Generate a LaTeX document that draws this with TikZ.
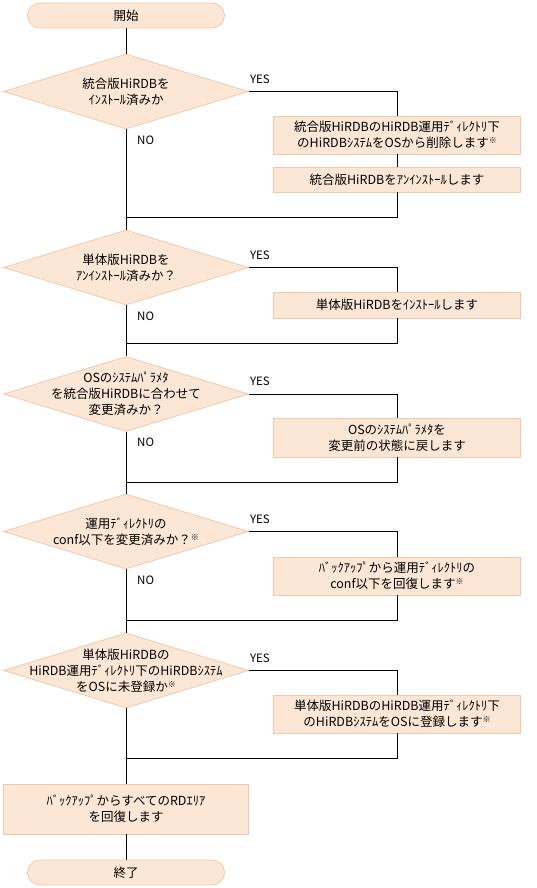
\documentclass[tikz,border=0pt]{standalone}
\usepackage{fontspec}
\setmainfont{Noto Sans CJK JP}
\usetikzlibrary{shapes.geometric,positioning}

\definecolor{boxfill}{RGB}{252,231,214}
\definecolor{boxline}{RGB}{240,201,170}
\newcommand{\kome}{\raisebox{0.6ex}{\fontsize{8}{8}\selectfont ※}}

\tikzset{
  process/.style={rectangle,draw=boxline,fill=boxfill,line width=0.8pt,
    minimum width=247pt,inner sep=0pt,align=center},
  terminal/.style={rectangle,rounded corners=12.5pt,draw=boxline,fill=boxfill,
    line width=0.8pt,minimum width=197pt,minimum height=25pt,inner sep=0pt},
  decision/.style={diamond,draw=boxline,fill=boxfill,line width=0.8pt,
    minimum width=245pt,minimum height=75pt,inner sep=0pt},
  yesno/.style={inner sep=0pt,font=\fontsize{11.5}{13}\selectfont},
  flow/.style={draw=black,line width=0.9pt},
}

\begin{document}
\begin{tikzpicture}[x=1pt,y=-1pt,font=\fontsize{12.5}{16}\selectfont]
\useasboundingbox (0,0) rectangle (536,888);

% main column
\node[terminal] (start) at (126,15.5) {開始};
\node[decision,label={[align=center]center:統合版HiRDBを\\ｲﾝｽﾄｰﾙ済みか}] (q1) at (126,91.5) {};
\node[decision,label={[align=center]center:単体版HiRDBを\\ｱﾝｲﾝｽﾄｰﾙ済みか？}] (q2) at (126,267.5) {};
\node[decision,label={[align=center]center:OSのｼｽﾃﾑﾊﾟﾗﾒﾀ\\を統合版HiRDBに合わせて\\変更済みか？}] (q3) at (126,394) {};
\node[decision,label={[align=center]center:運用ﾃﾞｨﾚｸﾄﾘの\\conf以下を変更済みか？\kome}] (q4) at (126,531.5) {};
\node[decision,label={[align=center]center:単体版HiRDBの\\HiRDB運用ﾃﾞｨﾚｸﾄﾘ下のHiRDBｼｽﾃﾑ\\をOSに未登録か\kome}] (q5) at (126,670.5) {};
\node[process,minimum width=245pt,minimum height=50pt] (b7) at (126,809) {ﾊﾞｯｸｱｯﾌﾟからすべてのRDｴﾘｱ\\を回復します};
\node[terminal] (stop) at (126,872.5) {終了};

% right column
\node[process,minimum height=38pt] (b1) at (397,135) {統合版HiRDBのHiRDB運用ﾃﾞｨﾚｸﾄﾘ下\\のHiRDBｼｽﾃﾑをOSから削除します\kome};
\node[process,minimum height=25pt] (b2) at (397,179.5) {統合版HiRDBをｱﾝｲﾝｽﾄｰﾙします};
\node[process,minimum height=26pt] (b3) at (397,305) {単体版HiRDBをｲﾝｽﾄｰﾙします};
\node[process,minimum height=39pt] (b4) at (397,437.5) {OSのｼｽﾃﾑﾊﾟﾗﾒﾀを\\変更前の状態に戻します};
\node[process,minimum height=38pt] (b5) at (397,576) {ﾊﾞｯｸｱｯﾌﾟから運用ﾃﾞｨﾚｸﾄﾘの\\conf以下を回復します\kome};
\node[process,minimum height=38pt] (b6) at (397,714) {単体版HiRDBのHiRDB運用ﾃﾞｨﾚｸﾄﾘ下\\のHiRDBｼｽﾃﾑをOSに登録します\kome};

% merge points
\coordinate (m1) at (126,217);
\coordinate (m2) at (126,343);
\coordinate (m3) at (126,482);
\coordinate (m4) at (126,620);
\coordinate (m5) at (126,758);

% YES / NO
\node[yesno,above right=8pt and 1pt of q1.east] (y1) {YES};
\node[yesno,above right=8pt and 1pt of q2.east] (y2) {YES};
\node[yesno,above right=8pt and 1pt of q3.east] (y3) {YES};
\node[yesno,above right=8pt and 1pt of q4.east] (y4) {YES};
\node[yesno,above right=8pt and 1pt of q5.east] (y5) {YES};
\node[yesno,below right=6pt and 11pt of q1.south] (n1) {NO};
\node[yesno,below right=6pt and 11pt of q2.south] (n2) {NO};
\node[yesno,below right=6pt and 11pt of q3.south] (n3) {NO};
\node[yesno,below right=6pt and 11pt of q4.south] (n4) {NO};

% connectors
\draw[flow] (start) -- (q1);
\draw[flow] (q1.south) -- (q2.north);
\draw[flow] (q2.south) -- (q3.north);
\draw[flow] (q3.south) -- (q4.north);
\draw[flow] (q4.south) -- (q5.north);
\draw[flow] (q5.south) -- (b7.north);
\draw[flow] (b7) -- (stop);

\draw[flow] (q1.east) -| (b1.north);
\draw[flow] (b1) -- (b2);
\draw[flow] (b2.south) |- (m1);
\draw[flow] (q2.east) -| (b3.north);
\draw[flow] (b3.south) |- (m2);
\draw[flow] (q3.east) -| (b4.north);
\draw[flow] (b4.south) |- (m3);
\draw[flow] (q4.east) -| (b5.north);
\draw[flow] (b5.south) |- (m4);
\draw[flow] (q5.east) -| (b6.north);
\draw[flow] (b6.south) |- (m5);
\end{tikzpicture}
\end{document}
